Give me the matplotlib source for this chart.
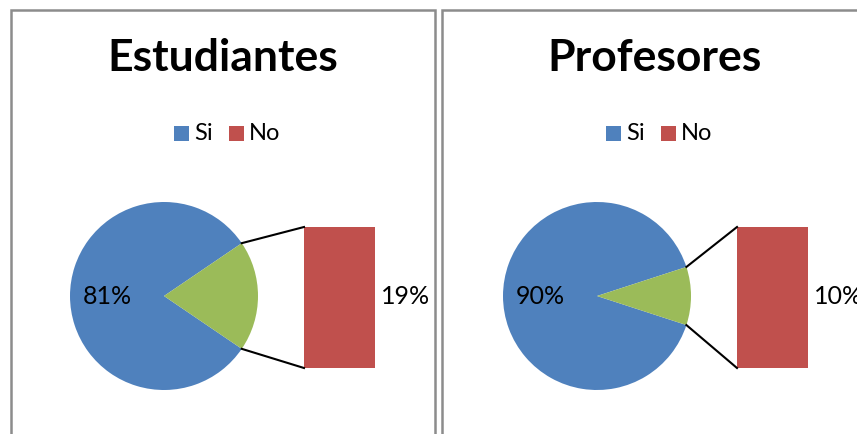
import numpy as np
import matplotlib
matplotlib.use("Agg")
import matplotlib.pyplot as plt
from matplotlib.patches import Rectangle

# ---- data ----
titles = ["Estudiantes", "Profesores"]
categories = ["Si", "No"]
estudiantes = [81, 19]
profesores = [90, 10]
series = [estudiantes, profesores]

BLUE = "#4F81BD"
RED = "#C0504D"
GREEN = "#9BBB59"
FONT = ["Lato", "DejaVu Sans"]

W, H = 857, 434
fig = plt.figure(figsize=(W / 100, H / 100), dpi=100)

# one axes in pixel-like coordinates (y up)
ax = fig.add_axes([0, 0, 1, 1])

panels = [
    dict(x0=11, x1=435, cx=164, bar_x=304, mid=223),
    dict(x0=442, x1=870, cx=597, bar_x=737, mid=655),
]
cy = H - 296
radius = 94
bar_w = 71
bar_top = H - 227
bar_bot = H - 368

for p, title, vals in zip(panels, titles, series):
    # panel border
    ax.add_patch(Rectangle((p["x0"], -10), p["x1"] - p["x0"], H,
                           fill=False, edgecolor="#8C8C8C", lw=1.8, zorder=0))
    # title
    ax.text(p["mid"], H - 58, title, ha="center", va="center", fontsize=32,
            fontweight="bold", family=FONT, color="black")
    total = sum(vals)
    frac_no = vals[1] / total
    start = 360 * frac_no / 2
    ax.pie(vals, colors=[BLUE, GREEN], startangle=start, counterclock=True,
           center=(p["cx"], cy), radius=radius, frame=True,
           wedgeprops=dict(linewidth=0))
    # bar of the "No" item (stacked fraction of second plot = 1)
    bar_h = (bar_top - bar_bot) * (vals[1] / vals[1])
    ax.bar(p["bar_x"], bar_h, width=bar_w, bottom=bar_bot, align="edge",
           color=RED, linewidth=0)
    # connector lines
    a = np.deg2rad(start)
    ex = p["cx"] + radius * np.cos(a)
    ey_top = cy + radius * np.sin(a)
    ey_bot = cy - radius * np.sin(a)
    ax.plot([ex, p["bar_x"]], [ey_top, bar_bot + bar_h], color="black", lw=1.5)
    ax.plot([ex, p["bar_x"]], [ey_bot, bar_bot], color="black", lw=1.5)
    # data labels
    ax.text(p["cx"] - 81, cy - 1, f"{vals[0]}%", ha="left", va="center",
            fontsize=18, family=FONT, color="black")
    ax.text(p["bar_x"] + bar_w + 6, cy - 1, f"{vals[1]}%", ha="left",
            va="center", fontsize=18, family=FONT, color="black")
    # legend
    lx = p["mid"]
    ly = H - 133
    sq = 15
    ax.add_patch(Rectangle((lx - 49, ly - sq / 2), sq, sq, color=BLUE, lw=0))
    ax.text(lx - 29, ly, categories[0], ha="left", va="center", fontsize=17,
            family=FONT)
    ax.add_patch(Rectangle((lx + 6, ly - sq / 2), sq, sq, color=RED, lw=0))
    ax.text(lx + 26, ly, categories[1], ha="left", va="center", fontsize=17,
            family=FONT)

ax.set_xlim(0, W)
ax.set_ylim(0, H)
ax.set_aspect("auto")
ax.axis("off")

fig.savefig("out.png", dpi=100)
